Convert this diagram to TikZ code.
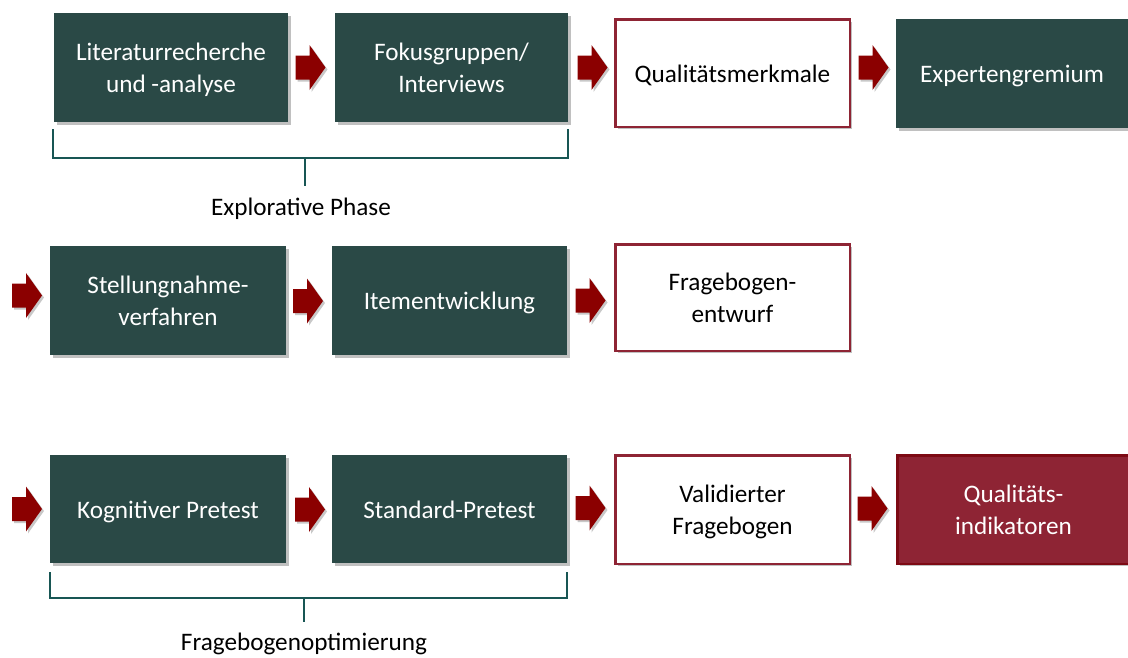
\documentclass[tikz,border=0pt]{standalone}
\usepackage{fontspec}
\setmainfont{Carlito}
\usetikzlibrary{shadows}
\definecolor{boxgreen}{RGB}{42,73,70}
\definecolor{arrowred}{RGB}{139,0,0}
\definecolor{framered}{RGB}{142,36,52}
\definecolor{darkframe}{RGB}{125,10,20}
\definecolor{bracketteal}{RGB}{24,86,84}
\newcommand\onel[1]{\rule{0pt}{24pt}#1\rule[-6pt]{0pt}{0pt}}
\newcommand\twol[2]{\rule{0pt}{24pt}#1\\#2\rule[-6pt]{0pt}{0pt}}
\tikzset{
  softshadow/.style={drop shadow={shadow xshift=2.5pt,shadow yshift=-2.5pt,opacity=.35,fill=black!70}},
  boxtext/.style={font=\fontsize{25.2}{31.5}\selectfont, align=center, inner sep=0pt, outer sep=0pt},
  greenbox/.style={boxtext, fill=boxgreen, text=white, softshadow},
  whitebox/.style={boxtext, draw=framered, line width=2.5pt, fill=white, text=black, softshadow},
  redbox/.style={boxtext, draw=darkframe, line width=2.5pt, fill=framered, text=white, softshadow},
  arrowfill/.style={fill=arrowred, drop shadow={shadow xshift=2pt,shadow yshift=-2pt,opacity=.3,fill=black!70}},
  bracket/.style={draw=bracketteal, line width=2.5pt},
  caption/.style={font=\fontsize{25.2}{31.5}\selectfont, inner sep=0pt, text=black},
  barrow/.pic={
    \coordinate (-c) at (0,0);
    \fill[arrowfill] (-15,-12) -- (-1,-12) -- (-1,-22.5) -- (15,0) -- (-1,22.5) -- (-1,12) -- (-15,12) -- cycle;
  }
}
\begin{document}
\begin{tikzpicture}[x=1pt,y=-1pt]
\useasboundingbox[fill=white] (0,0) rectangle (1128,657);
% row 1
\node[greenbox, minimum width=234pt, minimum height=109pt] (b1) at (171,67.5) {\twol{Literaturrecherche}{und -analyse}};
\node[greenbox, minimum width=233pt, minimum height=109pt] (b2) at (451.5,67.5) {\twol{Fokusgruppen/}{Interviews}};
\node[whitebox, minimum width=234.5pt, minimum height=107.5pt] (b3) at (732.5,73) {\onel{Qualitätsmerkmale}};
\node[greenbox, minimum width=232pt, minimum height=109pt] (b4) at (1012,73.5) {\onel{Expertengremium}};
\pic (a1) at (310.5,67.5) {barrow};
\pic (a2) at (592.5,67.5) {barrow};
\pic (a3) at (873.5,67.5) {barrow};
% bracket 1
\draw[bracket] (53,129) -- (53,158) -- (568,158) -- (568,129);
\draw[bracket] (305,158) -- (305,186);
\node[caption] (l1) at (301,209) {Explorative Phase};
% row 2
\node[greenbox, minimum width=236pt, minimum height=109pt] (c1) at (168,300.5) {\twol{Stellungnahme-}{verfahren}};
\node[greenbox, minimum width=235pt, minimum height=109pt] (c2) at (449.5,300.5) {\onel{Itementwicklung}};
\node[whitebox, minimum width=234.5pt, minimum height=106.5pt] (c3) at (732.5,297.5) {\twol{Fragebogen-}{entwurf}};
\pic (a4) at (27,295.5) {barrow};
\pic (a5) at (308,301) {barrow};
\pic (a6) at (590.5,300.5) {barrow};
% row 3
\node[greenbox, minimum width=236pt, minimum height=108pt] (d1) at (168,509) {\onel{Kognitiver Pretest}};
\node[greenbox, minimum width=235pt, minimum height=108pt] (d2) at (449.5,509) {\onel{Standard-Pretest}};
\node[whitebox, minimum width=234.5pt, minimum height=108.5pt] (d3) at (732.5,509.5) {\twol{Validierter}{Fragebogen}};
\node[redbox, minimum width=232pt, minimum height=108.5pt] (d4) at (1013.5,509.5) {\twol{Qualitäts-}{indikatoren}};
\pic (a7) at (27,509) {barrow};
\pic (a8) at (310,509.5) {barrow};
\pic (a9) at (590.5,508) {barrow};
\pic (a10) at (872.5,508.5) {barrow};
% bracket 2
\draw[bracket] (50,572) -- (50,598) -- (567,598) -- (567,572);
\draw[bracket] (304,598) -- (304,622);
\node[caption] (l2) at (304,644) {Fragebogenoptimierung};
\end{tikzpicture}
\end{document}
